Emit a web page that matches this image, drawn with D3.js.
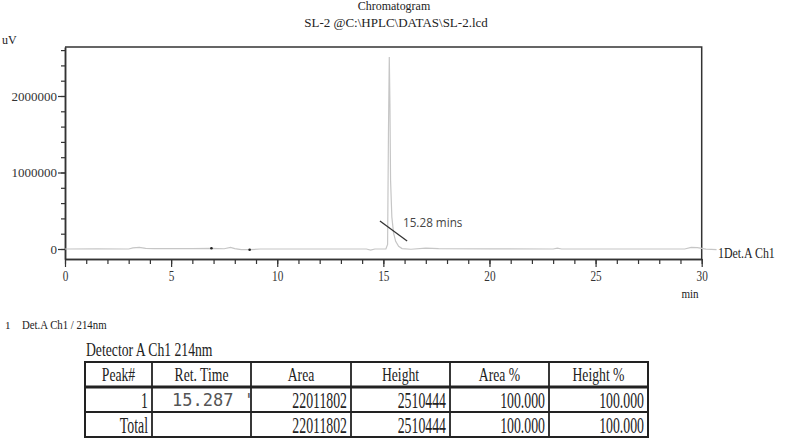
<!DOCTYPE html>
<html>
<head>
<meta charset="utf-8">
<script src="https://cdn.jsdelivr.net/npm/d3@7"></script>
<style>
  body { margin: 0; background: #fff; }
  svg { display: block; }
</style>
</head>
<body>
<div id="chart"></div>
<script>
// chromatogram trace (min, uV)
const timeMin = [0, 1.5, 3.0, 3.2, 3.5, 3.8, 4.2, 6.0, 6.9, 7.5, 7.8, 8.0, 8.3, 8.7, 9.2, 12.0,
  14.2, 14.4, 14.6, 15.12, 15.2, 15.24, 15.28, 15.31, 15.34, 15.4, 15.48, 15.58, 15.72, 15.88,
  16.3, 17.0, 17.6, 20.0, 23.0, 23.2, 23.4, 27.0, 29.2, 29.5, 29.8, 30.2, 30.7];
const signalUV = [0, 2000, 0, 15000, 22000, 8000, 4000, 4000, 9000, 3000, 22000, 6000, -9000, -9000, 0, 0,
  0, -14000, 0, 0, 60000, 1500000, 2510444, 1900000, 900000, 420000, 210000, 100000, 35000, 6000,
  -3000, 12000, 4000, 2000, 0, 12000, 0, 0, 0, 22000, 18000, -2000, -8000];

// integration marks (black dots on baseline)
const markTime = [6.9, 8.7];
const markValue = [9000, -9000];

// peak annotation
const annoText = "15.28 mins";
const annoFrom = [14.84, 366000];
const annoTo = [16.12, 105000];

// axes
const xMajor = d3.range(0, 31, 5);
const xMinor = d3.range(0, 31, 1);
const yMajor = [0, 1000000, 2000000];
const yMinor = d3.range(0, 2600001, 200000);

// peak table
const tableTitle = "Detector A Ch1 214nm";
const tableHeader = ["Peak#", "Ret. Time", "Area", "Height", "Area %", "Height %"];
const peakCol = ["1", "Total"];
const retTimeCol = ["15.287 '", ""];
const areaCol = ["22011802", "22011802"];
const heightCol = ["2510444", "2510444"];
const areaPctCol = ["100.000", "100.000"];
const heightPctCol = ["100.000", "100.000"];

const width = 787, height = 439;
const serif = "'Liberation Serif', 'Times New Roman', serif";

const svg = d3.select("#chart").append("svg")
  .attr("width", width).attr("height", height);

function addText(x, y, str, o = {}) {
  return svg.append("text")
    .attr("transform", `translate(${x},${y}) scale(${o.k || 1},1)`)
    .attr("text-anchor", o.anchor || "start")
    .attr("dominant-baseline", "central")
    .style("font-family", o.family || serif)
    .style("font-size", (o.size || 13) + "px")
    .style("fill", o.fill || "#222")
    .text(str);
}

const x = d3.scaleLinear().domain([0, 30]).range([65, 701.7]);
const y = d3.scaleLinear().domain([-130700, 2640500]).range([259, 47]);

// titles
addText(394, 6, "Chromatogram", { size: 13, anchor: "middle", k: 0.92 });
addText(396, 22, "SL-2 @C:\\HPLC\\DATAS\\SL-2.lcd", { size: 13, anchor: "middle", k: 1 });
addText(2, 40, "uV", { size: 12 });

// box top/right
svg.append("path")
  .attr("d", `M${x(0)},${y.range()[1]}H${x(30)}V${y.range()[0]}`)
  .attr("fill", "none").attr("stroke", "#333").attr("stroke-width", 1.5);

// y axis
const gy = svg.append("g").attr("transform", `translate(${x(0)},0)`);
gy.call(d3.axisLeft(y).tickValues(yMinor).tickSize(4).tickSizeOuter(0).tickFormat(""));
gy.append("g").call(d3.axisLeft(y).tickValues(yMajor).tickSize(7).tickSizeOuter(0)
  .tickFormat(d3.format("d")));
gy.selectAll(".domain").attr("stroke", "#333").attr("stroke-width", 1.5);
gy.selectAll(".tick line").attr("stroke", "#333").attr("stroke-width", 1.2);
gy.selectAll("text").style("font-family", serif).style("font-size", "13px")
  .attr("fill", "#333").attr("x", -8);

// x axis
const gx = svg.append("g").attr("transform", `translate(0,${y.range()[0]})`);
gx.call(d3.axisBottom(x).tickValues(xMinor).tickSize(5).tickSizeOuter(0).tickFormat(""));
gx.append("g").call(d3.axisBottom(x).tickValues(xMajor).tickSize(8).tickSizeOuter(0));
gx.selectAll(".domain").attr("stroke", "#333").attr("stroke-width", 1.5);
gx.selectAll(".tick line").attr("stroke", "#333").attr("stroke-width", 1.2);
gx.selectAll("text").style("font-family", serif).style("font-size", "15px")
  .attr("fill", "#333").attr("y", 11).attr("transform", "scale(0.75,1)");

addText(690, 294, "min", { size: 13, anchor: "middle", k: 0.85 });

// trace
const line = d3.line().x(d => x(d[0])).y(d => y(d[1]));
svg.append("path")
  .datum(d3.zip(timeMin, signalUV))
  .attr("d", line)
  .attr("fill", "none").attr("stroke", "#c6c6c6").attr("stroke-width", 1.2);

svg.selectAll(".mark").data(d3.zip(markTime, markValue)).join("circle")
  .attr("cx", d => x(d[0])).attr("cy", d => y(d[1])).attr("r", 1.3).attr("fill", "#222");

// annotation
svg.append("line")
  .attr("x1", x(annoFrom[0])).attr("y1", y(annoFrom[1]))
  .attr("x2", x(annoTo[0])).attr("y2", y(annoTo[1]))
  .attr("stroke", "#333").attr("stroke-width", 1.3);
addText(403, 222, annoText, { size: 13, family: "'Open Sans', sans-serif", fill: "#444", k: 0.9 });

addText(718, 253, "1Det.A Ch1", { size: 14, k: 0.85 });
addText(5, 325, "1", { size: 11 });
addText(22, 325, "Det.A Ch1 / 214nm", { size: 12, k: 0.9 });

// table
addText(86, 350, tableTitle, { size: 19, k: 0.72 });
const colEdges = [85, 152, 251, 351, 450, 549, 648];
const rowEdges = [362, 387, 412, 437];
const cols = [peakCol, retTimeCol, areaCol, heightCol, areaPctCol, heightPctCol];

const gt = svg.append("g").attr("stroke", "#222").attr("fill", "none");
gt.append("rect").attr("x", colEdges[0]).attr("y", rowEdges[0])
  .attr("width", colEdges[6] - colEdges[0]).attr("height", rowEdges[3] - rowEdges[0])
  .attr("stroke-width", 2);
gt.selectAll(".v").data(colEdges.slice(1, 6)).join("line")
  .attr("x1", d => d).attr("x2", d => d).attr("y1", rowEdges[0]).attr("y2", rowEdges[3])
  .attr("stroke-width", 1.8);
gt.selectAll(".h").data(rowEdges.slice(1, 3)).join("line")
  .attr("x1", colEdges[0]).attr("x2", colEdges[6]).attr("y1", d => d).attr("y2", d => d)
  .attr("stroke-width", (d, i) => i === 0 ? 3 : 1.8);

tableHeader.forEach((h, i) => {
  addText((colEdges[i] + colEdges[i + 1]) / 2, (rowEdges[0] + rowEdges[1]) / 2, h,
    { size: 19, anchor: "middle", k: 0.72 });
});
cols.forEach((col, i) => {
  col.forEach((v, r) => {
    const cy = (rowEdges[r + 1] + rowEdges[r + 2]) / 2;
    if (i === 1) {
      addText(colEdges[1] + 20, cy, v, { size: 17, family: "'DejaVu Sans Mono', monospace", fill: "#555", k: 1 });
    } else {
      addText(colEdges[i + 1] - 4, cy + 1, v, { size: 23, anchor: "end", k: 0.6 });
    }
  });
});
</script>
</body>
</html>
